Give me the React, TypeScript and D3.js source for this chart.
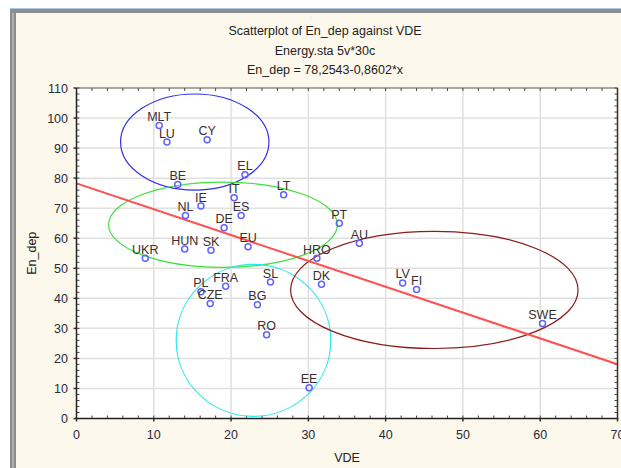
import React from "react";
import * as d3 from "d3";

const countries = ["MLT","LU","CY","EL","BE","LT","IT","IE","NL","ES","DE","EU","HUN","SK","UKR","PT","AU","HRO","SL","DK","FRA","PL","CZE","BG","RO","LV","FI","SWE","EE"];
const vde = [10.7,11.7,16.9,21.8,13.1,26.8,20.4,16.1,14.1,21.3,19.1,22.2,14.0,17.4,8.9,34.0,36.6,31.1,25.1,31.7,19.3,16.1,17.3,23.4,24.6,42.2,44.0,60.3,30.1];
const enDep = [97.5,92.0,92.8,81.1,77.9,74.5,73.5,70.7,67.6,67.6,63.5,57.2,56.4,56.0,53.3,65.0,58.3,53.3,45.4,44.7,44.0,42.2,38.3,37.9,27.9,45.1,42.9,31.6,10.2];

const xTicks = [0,10,20,30,40,50,60,70];
const yTicks = [0,10,20,30,40,50,60,70,80,90,100,110];
const intercept = 78.2543;
const slope = -0.8602;

// cluster ellipses in data units: centre x, centre y, radius x, radius y
const ellCx = [15.3, 18.95, 22.9, 46.3];
const ellCy = [92, 64.5, 26, 42.8];
const ellRx = [9.6, 14.8, 10.0, 18.6];
const ellRy = [16, 14.2, 25.3, 19.5];
const ellColors = ["#2f2ff0", "#3ee03e", "#28eaea", "#8a1c1c"];

const titleLines = ["Scatterplot of En_dep against VDE", "Energy.sta 5v*30c", "En_dep = 78,2543-0,8602*x"];

const W = 621, H = 468;
const L = 76.5, R = 617.5, T = 88, B = 418.5;
const font = "'Liberation Sans', Arial, sans-serif";

export default function App() {
  const x = d3.scaleLinear().domain([0, 70]).range([L, R]);
  const y = d3.scaleLinear().domain([0, 110]).range([B, T]);
  const minorX = d3.range(0, 70.01, 2);
  const minorY = d3.range(0, 110.01, 2);
  const lineGen = d3.line<number>().x(d => x(d)).y(d => y(intercept + slope * d));

  return (
    <svg width={W} height={H} style={{ position: "absolute", left: 0, top: 0, background: "#fff" }} fontFamily={font}>
      <rect x={0} y={0} width={W} height={H} fill="#fff" />
      <rect x={10} y={8} width={W - 10} height={H - 8} fill="#fdf8ec" />
      <line x1={10} x2={W} y1={8.5} y2={8.5} stroke="#a9c8e8" strokeWidth={1} />
      <rect x={10} y={9} width={W - 10} height={4} fill="#8d8d8d" />
      <rect x={10} y={9} width={6} height={H - 9} fill="#8d8d8d" />
      <rect x={12} y={13} width={2} height={H - 13} fill="#b0b0b0" />

      {titleLines.map((t, i) => (
        <text key={t} x={325} y={35 + i * 19.5} textAnchor="middle" fontSize={12.5} fill="#222">{t}</text>
      ))}

      <rect x={L} y={T} width={R - L} height={B - T} fill="#fff" />
      <defs>
        <clipPath id="plotclip"><rect x={L} y={T} width={R - L} height={B - T} /></clipPath>
      </defs>

      {xTicks.slice(1, -1).map(t => (
        <line key={"gx" + t} x1={x(t)} x2={x(t)} y1={T} y2={B} stroke="#e0e0e0" strokeWidth={1.5} />
      ))}
      {yTicks.slice(1, -1).map(t => (
        <line key={"gy" + t} x1={L} x2={R} y1={y(t)} y2={y(t)} stroke="#e0e0e0" strokeWidth={1.5} />
      ))}

      {minorX.map(t => (
        <g key={"mx" + t}>
          <line x1={x(t)} x2={x(t)} y1={B} y2={B - 3} stroke="#444" strokeWidth={1} />
          <line x1={x(t)} x2={x(t)} y1={T} y2={T + 3} stroke="#444" strokeWidth={1} />
        </g>
      ))}
      {minorY.map(t => (
        <g key={"my" + t}>
          <line x1={L} x2={L + 3} y1={y(t)} y2={y(t)} stroke="#444" strokeWidth={1} />
          <line x1={R} x2={R - 3} y1={y(t)} y2={y(t)} stroke="#444" strokeWidth={1} />
        </g>
      ))}
      {xTicks.map(t => (
        <line key={"tx" + t} x1={x(t)} x2={x(t)} y1={B} y2={B + 3} stroke="#333" strokeWidth={1.5} />
      ))}
      {yTicks.map(t => (
        <line key={"ty" + t} x1={L} x2={L - 3} y1={y(t)} y2={y(t)} stroke="#333" strokeWidth={1.5} />
      ))}

      <g clipPath="url(#plotclip)">
        {ellCx.map((cx, i) => (
          <ellipse key={"e" + i} cx={x(cx)} cy={y(ellCy[i])} rx={x(ellRx[i]) - x(0)} ry={y(0) - y(ellRy[i])}
            fill="none" stroke={ellColors[i]} strokeWidth={1.2} />
        ))}
        <path d={lineGen([0, 70]) || ""} stroke="#ff5050" strokeWidth={2} fill="none" />
        {countries.map((c, i) => (
          <g key={c}>
            <circle cx={x(vde[i])} cy={y(enDep[i])} r={3} fill="none" stroke="#6262ff" strokeWidth={1.5} />
            <text x={x(vde[i])} y={y(enDep[i]) - 4.5} textAnchor="middle" fontSize={12.5} fill="#3a2e2e">{c}</text>
          </g>
        ))}
      </g>

      <line x1={L} x2={R} y1={T} y2={T} stroke="#555" strokeWidth={1} />
      <line x1={R} x2={R} y1={T} y2={B} stroke="#333" strokeWidth={1.5} />
      <line x1={L} x2={L} y1={T} y2={B + 0.75} stroke="#222" strokeWidth={1.5} />
      <line x1={L} x2={R + 0.75} y1={B} y2={B} stroke="#222" strokeWidth={1.5} />

      {xTicks.map(t => (
        <text key={"lx" + t} x={x(t)} y={439} textAnchor="middle" fontSize={12.5} fill="#2a2a3a">{t}</text>
      ))}
      {yTicks.map(t => (
        <text key={"ly" + t} x={68} y={y(t) + 4.5} textAnchor="end" fontSize={12.5} fill="#2a2a3a">{t}</text>
      ))}

      <text x={(L + R) / 2} y={462} textAnchor="middle" fontSize={12.5} fill="#222">VDE</text>
      <text transform={`translate(36,${(T + B) / 2}) rotate(-90)`} textAnchor="middle" fontSize={12.5} fill="#222">En_dep</text>
    </svg>
  );
}
